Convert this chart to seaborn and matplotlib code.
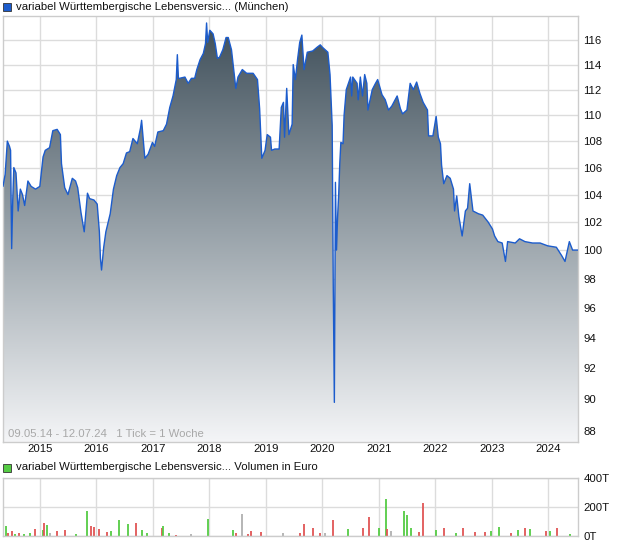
import numpy as np
import pandas as pd
import seaborn as sns
import matplotlib
matplotlib.use("Agg")
from matplotlib import pyplot as plt
from matplotlib.colors import LinearSegmentedColormap
from matplotlib.ticker import FixedLocator, FuncFormatter, NullLocator

# weekly ticks since 09.05.14 (1 Tick = 1 Woche)
startDate = "2014-05-09"
weeks = [0, 2, 4, 6, 7, 8, 9, 10, 12, 14, 16, 18, 20, 23, 26, 30, 34, 37, 39, 43,
         46, 50, 53, 54, 57, 60, 64, 67, 69, 72, 75, 78, 80, 84, 87, 89, 90, 91, 93, 95,
         99, 102, 105, 108, 111, 114, 117, 120, 124, 127, 128, 131, 134, 138, 140, 143, 148, 151, 154, 157,
         160, 161, 162, 163, 168, 171, 174, 177, 179, 182, 185, 187, 188, 189, 191, 194, 196, 198, 200, 203,
         206, 208, 211, 212, 215, 217, 221, 225, 231, 235, 237, 239, 242, 244, 247, 248, 251, 255, 257, 259,
         260, 262, 264, 267, 268, 270, 272, 274, 276, 278, 281, 286, 290, 293, 295, 300, 302, 303, 304, 305,
         306, 307, 308, 309, 310, 311, 312, 314, 315, 317, 319, 321, 322, 323, 327, 328, 330, 332, 334, 336,
         337, 341, 344, 346, 350, 353, 356, 359, 364, 367, 369, 373, 376, 379, 382, 385, 388, 392, 393, 397,
         400, 402, 404, 405, 407, 410, 413, 416, 417, 419, 421, 424, 427, 429, 431, 434, 439, 443, 448, 452,
         454, 457, 461, 464, 466, 473, 477, 482, 489, 496, 503, 511, 516, 519, 523, 526, 531]
prices = [104.6, 105.5, 108.0, 107.6, 107.3, 100.1, 103.6, 106.0, 105.6, 102.8, 104.4, 104.0, 103.2, 105.0, 104.6, 104.4, 104.6, 106.8, 107.3, 107.5,
          108.8, 108.9, 108.5, 106.3, 104.5, 104.0, 105.2, 105.0, 104.5, 102.7, 101.3, 104.1, 103.7, 103.6, 103.3, 101.3, 99.4, 98.6, 100.2, 101.3,
          102.6, 104.4, 105.4, 106.0, 106.3, 107.1, 107.2, 108.2, 107.8, 109.0, 109.6, 106.7, 107.0, 107.9, 107.6, 108.7, 108.8, 109.3, 110.6, 111.5,
          112.8, 114.8, 112.9, 112.9, 113.0, 112.5, 112.9, 112.9, 113.6, 114.4, 114.9, 115.7, 117.4, 115.8, 116.8, 116.5, 115.7, 114.5, 114.6, 115.2,
          116.2, 116.2, 115.2, 114.4, 112.1, 113.0, 113.6, 113.3, 113.3, 112.8, 110.5, 106.7, 107.3, 108.5, 108.3, 107.3, 107.4, 107.4, 110.6, 111.0,
          108.3, 112.1, 108.5, 109.3, 114.0, 112.8, 114.4, 115.8, 116.4, 113.6, 115.0, 115.1, 115.4, 115.6, 115.4, 115.0, 113.2, 111.2, 109.2, 97.4,
          89.8, 104.9, 100.0, 102.4, 104.0, 106.3, 107.9, 107.8, 110.0, 112.0, 112.5, 113.0, 111.5, 113.0, 112.5, 111.2, 113.0, 111.5, 113.2, 112.5,
          110.4, 112.0, 112.5, 112.8, 111.6, 111.2, 110.4, 110.7, 111.5, 110.5, 110.1, 110.4, 112.5, 112.0, 112.6, 111.7, 111.0, 110.4, 108.4, 108.4,
          109.9, 108.3, 107.8, 106.2, 104.8, 105.4, 105.2, 104.4, 102.8, 103.9, 102.4, 101.0, 102.8, 103.0, 104.8, 102.8, 102.6, 102.5, 102.0, 101.5,
          101.0, 100.6, 100.5, 99.2, 100.6, 100.5, 100.8, 100.6, 100.5, 100.5, 100.3, 100.2, 99.6, 99.2, 100.6, 100.0, 100.0]

# volume in thousand euro, color: G = up, R = down, X = unchanged
volWeeks = [0, 3, 5, 8, 11, 15, 19, 25, 30, 37, 38, 41, 43, 50, 57, 67, 78, 81, 84, 89,
            96, 100, 107, 115, 123, 128, 133, 147, 148, 153, 160, 174, 189, 212, 215, 221, 226, 229, 238, 259,
            274, 278, 286, 293, 297, 305, 319, 332, 338, 347, 354, 355, 358, 370, 373, 377, 384, 388, 400, 407,
            418, 425, 436, 445, 451, 458, 469, 476, 482, 487, 501, 505, 512, 524]
volumes = [420, 68, 20, 34, 15, 18, 12, 20, 48, 41, 89, 75, 23, 34, 39, 15, 170, 68, 64, 48,
           25, 34, 109, 82, 86, 39, 20, 57, 68, 18, 10, 15, 116, 41, 23, 150, 14, 32, 27, 18,
           20, 80, 55, 23, 23, 109, 48, 55, 130, 52, 252, 48, 34, 170, 143, 57, 27, 223, 41, 55,
           20, 55, 25, 27, 34, 64, 20, 41, 52, 48, 34, 34, 55, 14]
volDir = "XGRRGRGGRGRGXRRGGRRRRGGGRGGRGGRXGGRXRRRXRRRRXRGRRGGRXGGGRRGRGRRRGGRGRGRGRG"

yearTicks = [str(y) for y in range(2015, 2025)]
priceTicks = list(range(88, 117, 2))
volTicks = [0, 200, 400]
title = "variabel Württembergische Lebensversic... (München)"
volTitle = "variabel Württembergische Lebensversic... Volumen in Euro"
rangeText = "09.05.14 - 12.07.24   1 Tick = 1 Woche"

sns.set_theme(style="white")
plt.rcParams['font.family'] = ['Liberation Sans', 'DejaVu Sans']

start = pd.Timestamp(startDate)
df = pd.DataFrame({"date": start + pd.to_timedelta(np.array(weeks) * 7, unit="D"),
                   "price": prices})
vol = pd.DataFrame({"date": start + pd.to_timedelta(np.array(volWeeks) * 7, unit="D"),
                    "volume": volumes, "dir": list(volDir)})
xmin, xmax = start, start + pd.Timedelta(weeks=531)
yearPos = [pd.Timestamp(y + "-01-01") for y in yearTicks]
gridColor = "#dcdcdc"
lineColor = "#1c5ccc"

fig = plt.figure(figsize=(6.2, 5.46), dpi=100)
ax = fig.add_axes([3 / 620, 1 - 441.7 / 546, 575 / 620, 425.7 / 546])
axv = fig.add_axes([3 / 620, 1 - 536 / 546, 575 / 620, 58.3 / 546])

# price panel
ax.set_yscale("log")
ax.set_xlim(xmin, xmax)
ax.set_ylim(87.34, 117.98)
fill = ax.fill_between(df["date"], df["price"], 80, facecolor="none", edgecolor="none")
cmap = LinearSegmentedColormap.from_list("slate", ["#3d4d58", "#98a2a9", "#f4f5f7"])
grad = np.linspace(0, 1, 256).reshape(-1, 1)
im = ax.imshow(grad, cmap=cmap, aspect="auto", extent=[0, 1, 0, 1],
               transform=ax.transAxes, origin="upper", zorder=2)
im.set_clip_path(fill.get_paths()[0], transform=ax.transData)
sns.lineplot(data=df, x="date", y="price", ax=ax, color=lineColor, linewidth=1.0,
             zorder=3, estimator=None)
ax.set_xlabel("")
ax.set_ylabel("")
ax.xaxis.set_major_locator(FixedLocator(matplotlib.dates.date2num(yearPos)))
ax.set_xticklabels(yearTicks)
ax.yaxis.set_major_locator(FixedLocator(priceTicks))
ax.yaxis.set_minor_locator(NullLocator())
ax.yaxis.set_major_formatter(FuncFormatter(lambda v, p: "%d" % round(v)))
ax.yaxis.tick_right()
ax.grid(True, color=gridColor, linewidth=1, zorder=0)
ax.set_axisbelow(True)
ax.tick_params(axis="both", length=0, labelsize=8.2, colors="#111111")
ax.tick_params(axis="y", pad=4)
ax.tick_params(axis="x", pad=2)
for s in ax.spines.values():
    s.set_color("#cccccc")
    s.set_linewidth(1)
ax.text(0.009, 0.006, rangeText, transform=ax.transAxes, fontsize=8.2,
        color="#a8a8a8", va="bottom", ha="left", zorder=4)

# volume panel
colorMap = {"G": "#55cc44", "R": "#e05555", "X": "#b0b0b0"}
axv.vlines(vol["date"], 0, vol["volume"], colors=[colorMap[c] for c in vol["dir"]],
           linewidth=1.3, zorder=2)
axv.set_xlim(xmin, xmax)
axv.set_ylim(0, 400)
axv.xaxis.set_major_locator(FixedLocator(matplotlib.dates.date2num(yearPos)))
axv.set_xticklabels([])
axv.yaxis.set_major_locator(FixedLocator(volTicks))
axv.yaxis.set_major_formatter(FuncFormatter(lambda v, p: "%dT" % v))
axv.yaxis.tick_right()
axv.grid(True, color=gridColor, linewidth=1, zorder=0)
axv.set_axisbelow(True)
axv.tick_params(axis="both", length=0, labelsize=8.2, colors="#111111")
axv.tick_params(axis="y", pad=4)
for s in axv.spines.values():
    s.set_color("#cccccc")
    s.set_linewidth(1)

# legends
fig.patches.append(plt.Rectangle((3 / 620, 1 - 11 / 546), 8 / 620, 8 / 546, transform=fig.transFigure,
                                 facecolor="#1c5ccc", edgecolor="#333333", linewidth=0.6))
fig.text(16 / 620, 1 - 6.5 / 546, title, fontsize=8.2, va="center", ha="left", color="#111111")
fig.patches.append(plt.Rectangle((3 / 620, 1 - 472 / 546), 8 / 620, 8 / 546, transform=fig.transFigure,
                                 facecolor="#55cc44", edgecolor="#333333", linewidth=0.6))
fig.text(16 / 620, 1 - 467.5 / 546, volTitle, fontsize=8.2, va="center", ha="left", color="#111111")

fig.savefig("out.png", dpi=100)
